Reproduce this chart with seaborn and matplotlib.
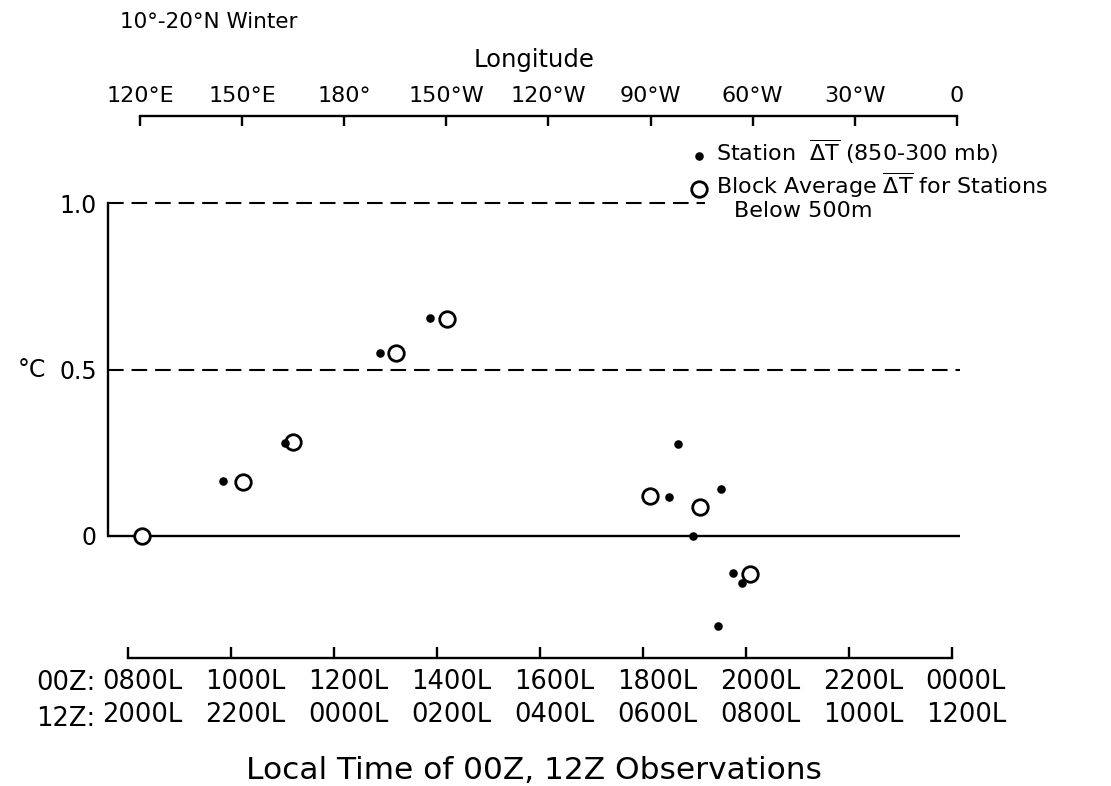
import matplotlib
matplotlib.use("Agg")
import matplotlib.pyplot as plt
from matplotlib.transforms import ScaledTranslation, blended_transform_factory
import numpy as np
import pandas as pd
import seaborn as sns

# ---------------- data ----------------
# longitude in degrees east (120E .. 360 = 0)
station_lon = [144.5, 162.6, 190.5, 205.2, 275.5, 278.0, 282.5, 290.7, 294.3, 297.0, 289.9]
station_dT = [0.165, 0.278, 0.549, 0.654, 0.118, 0.276, 0.0, 0.142, -0.112, -0.140, -0.270]

block_lon = [120.6, 150.3, 165.0, 195.1, 210.1, 269.8, 284.5, 299.2]
block_dT = [0.0, 0.163, 0.283, 0.549, 0.651, 0.120, 0.088, -0.114]

lon_ticks = [120, 150, 180, 210, 240, 270, 300, 330, 360]
lon_labels = ["120°E", "150°E", "180°", "150°W", "120°W", "90°W", "60°W", "30°W", "0"]
lt_00z = ["0800L", "1000L", "1200L", "1400L", "1600L", "1800L", "2000L", "2200L", "0000L"]
lt_12z = ["2000L", "2200L", "0000L", "0200L", "0400L", "0600L", "0800L", "1000L", "1200L"]
y_ticks = [0, 0.5, 1.0]
y_labels = ["0", "0.5", "1.0"]

# ---------------- layout ----------------
W, H = 1111, 786
sns.set_theme(style="white")
plt.rcParams["font.family"] = ["DejaVu Sans"]
for k in ["text.color", "axes.labelcolor", "xtick.color", "ytick.color", "axes.edgecolor"]:
    plt.rcParams[k] = "black"

fig = plt.figure(figsize=(W / 100, H / 100), dpi=100)
ax_l, ax_r, ax_t, ax_b = 108, 960, 116, 658
ax = fig.add_axes([ax_l / W, 1 - ax_b / H, (ax_r - ax_l) / W, (ax_b - ax_t) / H])

XLIM = (110.6, 360.9)
YLIM = (-0.3664, 1.2613)
ax.set_xlim(*XLIM)
ax.set_ylim(*YLIM)

# reference lines
dash = (0, (7.5, 3.8))
ax.axhline(0, color="black", lw=1.7, zorder=1)
ax.axhline(0.5, color="black", lw=1.5, ls=dash, zorder=1)
ax.hlines(1.0, XLIM[0], 286, color="black", lw=1.5, ls=dash, zorder=1)

# data marks
df_st = pd.DataFrame({"lon": station_lon, "dT": station_dT})
df_bl = pd.DataFrame({"lon": block_lon, "dT": block_dT})
sns.scatterplot(data=df_bl, x="lon", y="dT", ax=ax, marker="o", s=125,
                facecolor="white", edgecolor="black", linewidth=2.0, zorder=3,
                label="Block Average $\\overline{\\mathrm{\\Delta T}}$ for Stations")
sns.scatterplot(data=df_st, x="lon", y="dT", ax=ax, marker="o", s=38,
                color="black", edgecolor="black", linewidth=0, zorder=4,
                label="Station  $\\overline{\\mathrm{\\Delta T}}$ (850-300 mb)")

# spines
ax.spines["right"].set_visible(False)
ax.spines["bottom"].set_visible(False)
ax.spines["left"].set_bounds(0, 1.0)
ax.spines["left"].set_linewidth(1.7)
ax.spines["top"].set_bounds(lon_ticks[0], lon_ticks[-1])
ax.spines["top"].set_linewidth(1.7)

# top (longitude) axis
ax.xaxis.set_ticks_position("top")
ax.xaxis.set_label_position("top")
ax.set_xticks(lon_ticks)
ax.set_xticklabels(lon_labels, fontsize=16)
ax.tick_params(axis="x", direction="in", length=7.5, width=1.7, pad=7,
               top=True, bottom=False)
ax.set_xlabel("Longitude", fontsize=17.5, labelpad=14)

# y axis
ax.set_yticks(y_ticks)
ax.set_yticklabels(y_labels, fontsize=17)
ax.tick_params(axis="y", length=0, pad=8)
ax.set_ylabel("")
trans_c = blended_transform_factory(fig.transFigure, ax.transData)
ax.text(18 / W, 0.5, "°C", transform=trans_c, fontsize=17, va="center", ha="left")

# bottom (local time) axis
bottom_pos = np.linspace(116.5, 358.5, len(lt_00z))
sec = ax.secondary_xaxis("bottom")
sec.set_xticks(bottom_pos)
sec.set_xticklabels([f"{a}\n{b}" for a, b in zip(lt_00z, lt_12z)], fontsize=18.5,
                    linespacing=1.35)
sec.tick_params(direction="in", length=8, width=1.7, pad=8)
sec.spines["bottom"].set_bounds(bottom_pos[0], bottom_pos[-1])
sec.spines["bottom"].set_linewidth(1.7)
sec.set_xlabel("Local Time of 00Z, 12Z Observations", fontsize=22.5, labelpad=20)
off = ScaledTranslation(14 / 100, 0, fig.dpi_scale_trans)
for lab in sec.get_xticklabels():
    lab.set_transform(lab.get_transform() + off)

fig.text(95 / W, 1 - 683 / H, "00Z:", fontsize=18.5, ha="right", va="center")
fig.text(95 / W, 1 - 719 / H, "12Z:", fontsize=18.5, ha="right", va="center")

# title
fig.text(120 / W, 1 - 22 / H, "10°-20°N Winter", fontsize=15.5, ha="left", va="center")

# legend
handles, labels = ax.get_legend_handles_labels()
order = [1, 0]
leg = ax.legend([handles[i] for i in order], [labels[i] for i in order],
                loc="upper left", bbox_to_anchor=(688 / W, 1 - 138 / H),
                bbox_transform=fig.transFigure, frameon=False, fontsize=16,
                borderpad=0, borderaxespad=0, handletextpad=0.25, handlelength=1.0,
                labelspacing=0.2)
fig.text(734 / W, 1 - 211 / H, "Below 500m", fontsize=16, ha="left", va="center")

ax.set_facecolor("white")
fig.patch.set_facecolor("white")
ax.grid(False)

fig.savefig("out.png", dpi=100)
